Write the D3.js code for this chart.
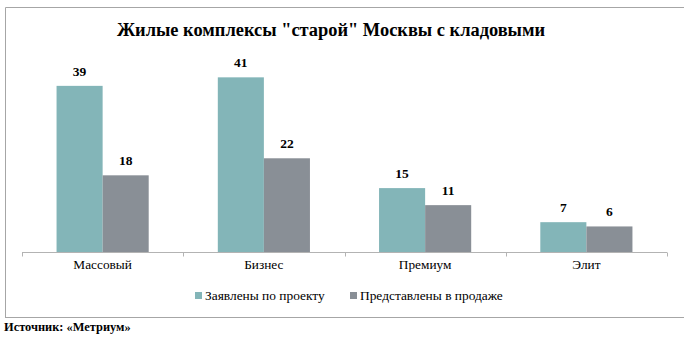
<!DOCTYPE html>
<html>
<head>
<meta charset="utf-8">
<script src="https://cdn.jsdelivr.net/npm/d3@7"></script>
<style>
  html, body { margin: 0; padding: 0; background: #fff; }
  svg { display: block; }
</style>
</head>
<body>
<svg id="chart" width="684" height="338" font-family="Liberation Serif"></svg>
<script>
// Housing complexes of "old" Moscow with storage rooms, by class
const categories = ["Массовый", "Бизнес", "Премиум", "Элит"];
const seriesNames = ["Заявлены по проекту", "Представлены в продаже"];
const declared = [39, 41, 15, 7];
const onSale = [18, 22, 11, 6];
const seriesColors = ["#83B5B8", "#898F96"];

const title = "Жилые комплексы \"старой\" Москвы с кладовыми";
const sourceNote = "Источник: «Метриум»";

const rows = categories.map((c, i) => ({ category: c, values: [declared[i], onSale[i]] }));

const svg = d3.select("#chart");
const FONT = "Liberation Serif";

// Chart frame (left, top and bottom edges)
svg.append("path")
  .attr("d", "M5.5,317.5 V7.5 H684")
  .attr("fill", "none").attr("stroke", "#a6a6a6").attr("stroke-width", 1);
svg.append("line")
  .attr("x1", 5).attr("x2", 684).attr("y1", 317.5).attr("y2", 317.5)
  .attr("stroke", "#a6a6a6").attr("stroke-width", 1);

// Title
svg.append("text")
  .attr("x", 331).attr("y", 35.7)
  .attr("text-anchor", "middle")
  .attr("font-family", FONT)
  .attr("font-size", 18.4).attr("font-weight", "bold")
  .attr("fill", "#000")
  .text(title);

// Scales
const plotLeft = 22, plotRight = 667, plotBottom = 252, plotTop = 60.3;
const x = d3.scaleBand().domain(categories).range([plotLeft, plotRight]).padding(0);
const y = d3.scaleLinear().domain([0, 45]).range([plotBottom, plotTop]);

// gap between clusters = 150% of one bar width
const gapRatio = 1.5;
const barW = x.bandwidth() / (seriesNames.length + gapRatio);
const xInner = d3.scaleBand().domain(d3.range(seriesNames.length))
  .range([0, barW * seriesNames.length]).padding(0);
const groupOffset = (x.bandwidth() - barW * seriesNames.length) / 2;

const groups = svg.append("g").selectAll("g")
  .data(rows).join("g")
  .attr("transform", d => `translate(${x(d.category) + groupOffset},0)`);

groups.selectAll("rect")
  .data(d => d.values.map((v, i) => ({ v, i })))
  .join("rect")
  .attr("x", d => xInner(d.i))
  .attr("width", xInner.bandwidth())
  .attr("y", d => y(d.v))
  .attr("height", d => y(0) - y(d.v))
  .attr("fill", d => seriesColors[d.i]);

// Value labels above bars
groups.selectAll("text.val")
  .data(d => d.values.map((v, i) => ({ v, i })))
  .join("text")
  .attr("class", "val")
  .attr("x", d => xInner(d.i) + xInner.bandwidth() / 2)
  .attr("y", d => y(d.v) - 10)
  .attr("text-anchor", "middle")
  .attr("font-family", FONT)
  .attr("font-size", 13.5).attr("font-weight", "bold")
  .attr("fill", "#000")
  .text(d => d.v);

// Category axis
const xAxis = svg.append("g").attr("transform", `translate(0,${plotBottom})`);
xAxis.append("line")
  .attr("x1", plotLeft).attr("x2", plotRight)
  .attr("y1", 0.5).attr("y2", 0.5)
  .attr("stroke", "#b3b3b3");
const tickPos = categories.map(c => x(c)).concat([plotRight]);
xAxis.selectAll("line.tick")
  .data(tickPos).join("line")
  .attr("class", "tick")
  .attr("x1", d => Math.round(d) + 0.5).attr("x2", d => Math.round(d) + 0.5)
  .attr("y1", 0.5).attr("y2", 4.5)
  .attr("stroke", "#b3b3b3");
xAxis.selectAll("text")
  .data(categories).join("text")
  .attr("x", d => x(d) + x.bandwidth() / 2)
  .attr("y", 17.3)
  .attr("text-anchor", "middle")
  .attr("font-family", FONT)
  .attr("font-size", 13.3)
  .attr("fill", "#000")
  .text(d => d);

// Legend
const legendX = [195, 350];
const legend = svg.append("g").selectAll("g")
  .data(seriesNames).join("g")
  .attr("transform", (d, i) => `translate(${legendX[i]},292)`);
legend.append("rect")
  .attr("x", 0).attr("y", 0).attr("width", 7).attr("height", 7)
  .attr("fill", (d, i) => seriesColors[i]);
legend.append("text")
  .attr("x", 10).attr("y", 8)
  .attr("font-family", FONT)
  .attr("font-size", 13.4)
  .attr("fill", "#000")
  .text(d => d);

// Source note
svg.append("text")
  .attr("x", 4).attr("y", 331)
  .attr("font-family", FONT)
  .attr("font-size", 12.4).attr("font-weight", "bold")
  .attr("fill", "#000")
  .text(sourceNote);
</script>
</body>
</html>
